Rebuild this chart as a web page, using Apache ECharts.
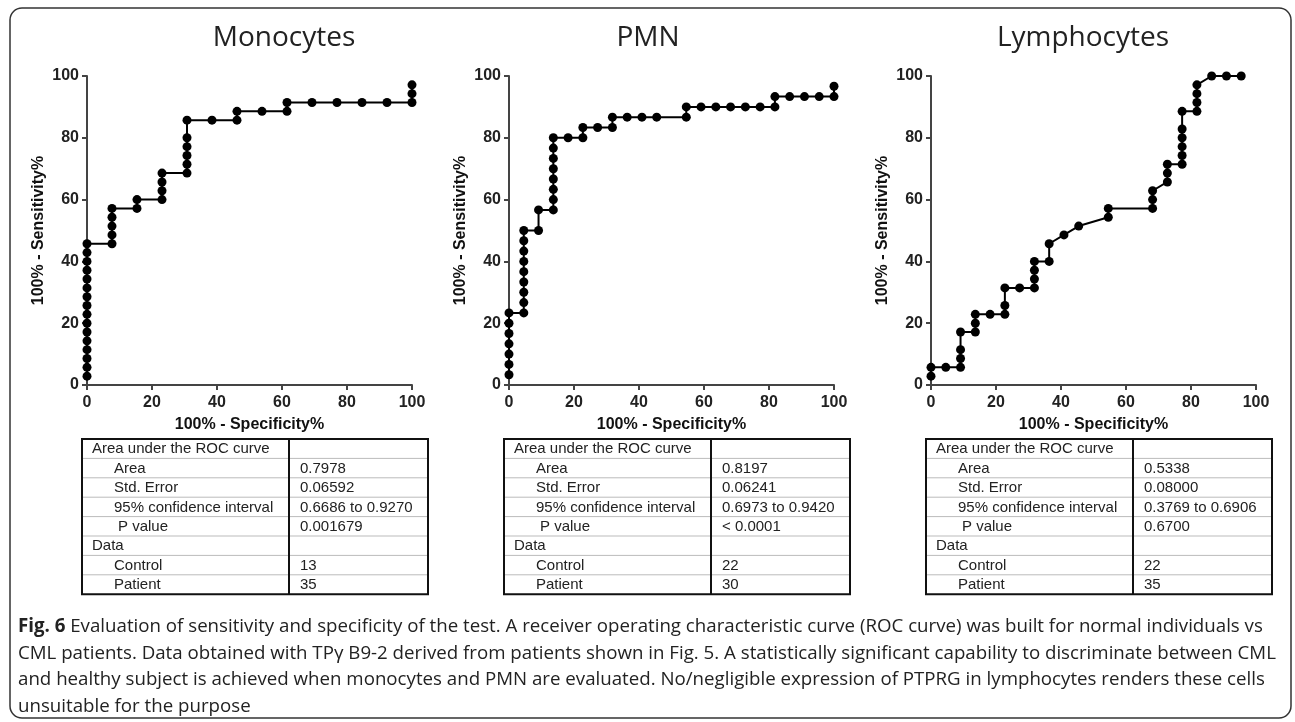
<!DOCTYPE html>
<html><head><meta charset="utf-8">
<script src="https://cdn.jsdelivr.net/npm/echarts@6/dist/echarts.min.js"></script>
<style>html,body{margin:0;padding:0;background:#fff}#c{width:1295px;height:722px}</style>
</head><body><div id="c"></div>
<script>
// ---------- data ----------
const panelTitles = ['Monocytes', 'PMN', 'Lymphocytes'];
const xAxisName = '100% - Specificity%';
const yAxisName = '100% - Sensitivity%';

const monoX = [0,0,0,0,0,0,0,0,0,0,0,0,0,0,0,0, 7.69,7.69,7.69,7.69,7.69, 15.38,15.38, 23.08,23.08,23.08,23.08,
  30.77,30.77,30.77,30.77,30.77,30.77, 38.46, 46.15,46.15, 53.85, 61.54,61.54, 69.23, 76.92, 84.62, 92.31, 100,100,100];
const monoY = [2.86,5.71,8.57,11.43,14.29,17.14,20,22.86,25.71,28.57,31.43,34.29,37.14,40,42.86,45.71,
  45.71,48.57,51.43,54.29,57.14, 57.14,60, 60,62.86,65.71,68.57,
  68.57,71.43,74.29,77.14,80,85.71, 85.71, 85.71,88.57, 88.57, 88.57,91.43, 91.43, 91.43, 91.43, 91.43, 91.43,94.29,97.14];

const pmnX = [0,0,0,0,0,0,0, 4.55,4.55,4.55,4.55,4.55,4.55,4.55,4.55,4.55, 9.09,9.09,
  13.64,13.64,13.64,13.64,13.64,13.64,13.64,13.64, 18.18, 22.73,22.73, 27.27, 31.82,31.82, 36.36, 40.91, 45.45,
  54.55,54.55, 59.09, 63.64, 68.18, 72.73, 77.27, 81.82,81.82, 86.36, 90.91, 95.45, 100,100];
const pmnY = [3.33,6.67,10,13.33,16.67,20,23.33, 23.33,26.67,30,33.33,36.67,40,43.33,46.67,50, 50,56.67,
  56.67,60,63.33,66.67,70,73.33,76.67,80, 80, 80,83.33, 83.33, 83.33,86.67, 86.67, 86.67, 86.67,
  86.67,90, 90, 90, 90, 90, 90, 90,93.33, 93.33, 93.33, 93.33, 93.33,96.67];

const lymX = [0,0, 4.55, 9.09,9.09,9.09,9.09, 13.64,13.64,13.64, 18.18, 22.73,22.73,22.73, 27.27,
  31.82,31.82,31.82,31.82, 36.36,36.36, 40.91, 45.45, 54.55,54.55, 68.18,68.18,68.18, 72.73,72.73,72.73,
  77.27,77.27,77.27,77.27,77.27,77.27, 81.82,81.82,81.82,81.82, 86.36, 90.91, 95.45];
const lymY = [2.86,5.71, 5.71, 5.71,8.57,11.43,17.14, 17.14,20,22.86, 22.86, 22.86,25.71,31.43, 31.43,
  31.43,34.29,37.14,40, 40,45.71, 48.57, 51.43, 54.29,57.14, 57.14,60,62.86, 65.71,68.57,71.43,
  71.43,74.29,77.14,80,82.86,88.57, 88.57,91.43,94.29,97.14, 100, 100, 100];

const tableRowLabels = ['Area under the ROC curve', 'Area', 'Std. Error', '95% confidence interval', 'P value', 'Data', 'Control', 'Patient'];
const monoStats = ['', '0.7978', '0.06592', '0.6686 to 0.9270', '0.001679', '', '13', '35'];
const pmnStats  = ['', '0.8197', '0.06241', '0.6973 to 0.9420', '< 0.0001', '', '22', '30'];
const lymStats  = ['', '0.5338', '0.08000', '0.3769 to 0.6906', '0.6700', '', '22', '35'];

const captionBold = 'Fig. 6';
const captionLines = [
  ' Evaluation of sensitivity and specificity of the test. A receiver operating characteristic curve (ROC curve) was built for normal individuals vs',
  'CML patients. Data obtained with TPγ B9-2 derived from patients shown in Fig. 5. A statistically significant capability to discriminate between CML',
  'and healthy subject is achieved when monocytes and PMN are evaluated. No/negligible expression of PTPRG in lymphocytes renders these cells',
  'unsuitable for the purpose'
];

// ---------- layout ----------
const panels = [
  {xs: monoX, ys: monoY, stats: monoStats},
  {xs: pmnX, ys: pmnY, stats: pmnStats},
  {xs: lymX, ys: lymY, stats: lymStats}
];
const gridLefts = [87, 509, 931];
const titleCenters = [284, 648, 1083];
const gridTop = 76, gridH = 309, gridW = 325;
const axisColor = '#444';
const labelFont = 'Liberation Sans, Arial, sans-serif';

const grids = [], xAxes = [], yAxes = [], series = [], graphics = [];

panels.forEach((p, i) => {
  grids.push({left: gridLefts[i], top: gridTop, width: gridW, height: gridH});
  xAxes.push({
    type: 'value', gridIndex: i, min: 0, max: 100, interval: 20,
    splitLine: {show: false},
    axisLine: {show: true, onZero: false, lineStyle: {color: axisColor, width: 2}},
    axisTick: {show: true, length: 5, lineStyle: {color: axisColor, width: 2}},
    axisLabel: {color: '#222', fontWeight: 'bold', fontSize: 16, fontFamily: labelFont, margin: 10},
    name: xAxisName, nameLocation: 'middle', nameGap: 32,
    nameTextStyle: {color: '#111', fontWeight: 'bold', fontSize: 16, fontFamily: labelFont}
  });
  yAxes.push({
    type: 'value', gridIndex: i, min: 0, max: 100, interval: 20,
    splitLine: {show: false},
    axisLine: {show: true, onZero: false, lineStyle: {color: axisColor, width: 2}},
    axisTick: {show: true, length: 5, lineStyle: {color: axisColor, width: 2}},
    axisLabel: {color: '#222', fontWeight: 'bold', fontSize: 16, fontFamily: labelFont, margin: 8},
    name: yAxisName, nameLocation: 'middle', nameGap: 40,
    nameTextStyle: {color: '#111', fontWeight: 'bold', fontSize: 16, fontFamily: labelFont}
  });
  series.push({
    type: 'line', xAxisIndex: i, yAxisIndex: i, clip: false,
    data: p.xs.map((x, j) => [x, p.ys[j]]),
    symbol: 'circle', symbolSize: 9, showAllSymbol: true,
    itemStyle: {color: '#000'}, lineStyle: {color: '#000', width: 2},
    z: 3
  });

  // title
  graphics.push({type: 'text', x: titleCenters[i], y: 38, style: {
    text: panelTitles[i], fontSize: 28, fontFamily: 'Open Sans, sans-serif', fill: '#222',
    align: 'center', verticalAlign: 'middle'}});

  // table
  const tl = gridLefts[i] - 5, tt = 439, tw = 346, rh = 19.4, div = tl + 207;
  const nRows = tableRowLabels.length;
  for (let r = 1; r < nRows; r++) {
    graphics.push({type: 'line', shape: {x1: tl, y1: tt + r * rh, x2: tl + tw, y2: tt + r * rh},
      style: {stroke: '#bbb', lineWidth: 1}});
  }
  graphics.push({type: 'rect', shape: {x: tl, y: tt, width: tw, height: rh * nRows},
    style: {fill: 'none', stroke: '#111', lineWidth: 2}});
  graphics.push({type: 'line', shape: {x1: div, y1: tt, x2: div, y2: tt + rh * nRows},
    style: {stroke: '#111', lineWidth: 2}});
  const indents = [10, 32, 32, 32, 36, 10, 32, 32];
  tableRowLabels.forEach((lab, r) => {
    graphics.push({type: 'text', x: tl + indents[r], y: tt + (r + 0.5) * rh + 0.5, style: {
      text: lab, fontSize: 15, fontFamily: labelFont, fill: '#222', align: 'left', verticalAlign: 'middle'}});
    if (p.stats[r]) {
      graphics.push({type: 'text', x: div + 11, y: tt + (r + 0.5) * rh + 0.5, style: {
        text: p.stats[r], fontSize: 15, fontFamily: labelFont, fill: '#222', align: 'left', verticalAlign: 'middle'}});
    }
  });
});

// outer frame
graphics.push({type: 'rect', shape: {x: 10, y: 8, width: 1281, height: 710, r: 12},
  style: {fill: 'none', stroke: '#333', lineWidth: 1.5}, z: -1});

// caption
captionLines.forEach((line, k) => {
  graphics.push({type: 'text', x: 18, y: 627 + k * 26.5, style: {
    text: (k === 0 ? '{b|' + captionBold + '}' : '') + line,
    fontSize: 18.7, fontFamily: 'Open Sans, sans-serif', fill: '#222', align: 'left', verticalAlign: 'middle',
    rich: {b: {fontWeight: 'bold', fontSize: 18.7, fontFamily: 'Open Sans, sans-serif', fill: '#222'}}}});
});

const chart = echarts.init(document.getElementById('c'), null, {renderer: 'canvas'});
chart.setOption({
  animation: false,
  backgroundColor: '#fff',
  grid: grids, xAxis: xAxes, yAxis: yAxes, series: series,
  graphic: {elements: graphics}
});
</script></body></html>
